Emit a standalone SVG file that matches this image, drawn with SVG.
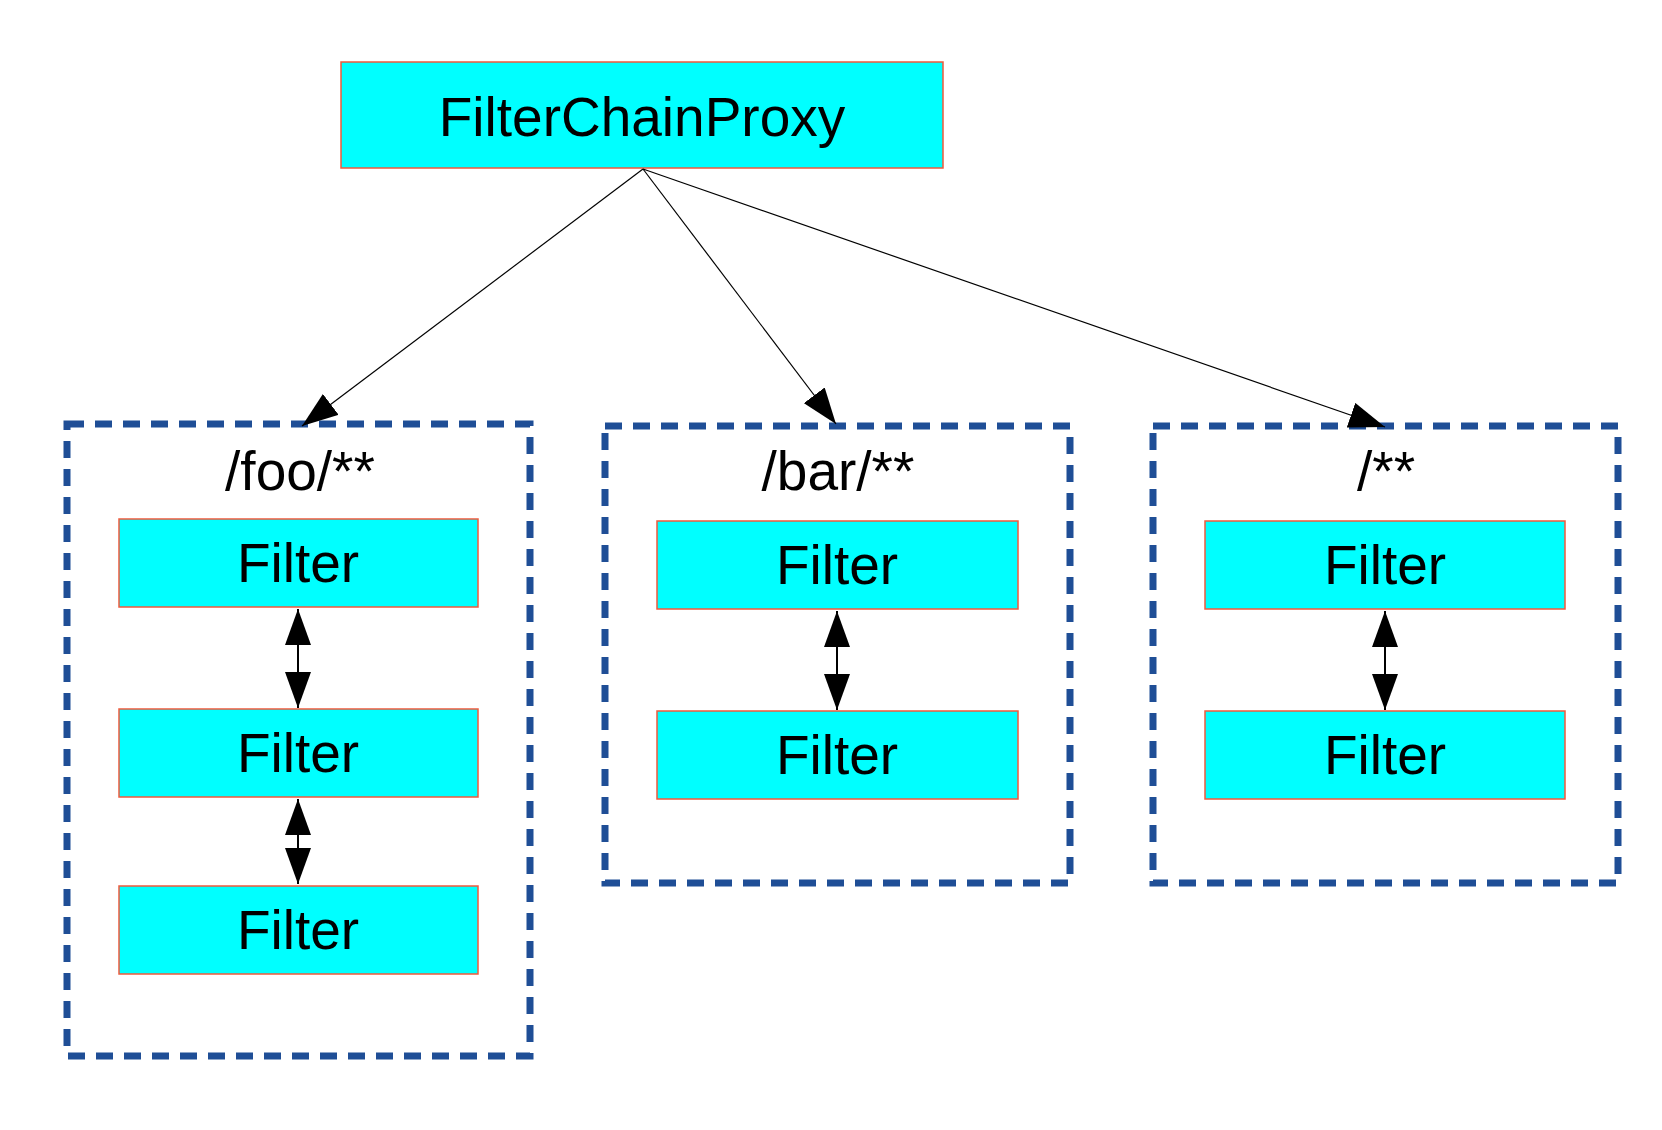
<svg xmlns="http://www.w3.org/2000/svg" width="1662" height="1130" viewBox="0 0 1662 1130">
<style>
.box{fill:#00ffff;stroke:#f05a3c;stroke-width:1.5}
.grp{fill:none;stroke:#1f4e96;stroke-width:7;stroke-dasharray:17 11}
.t{font-family:"Liberation Sans",Arial,sans-serif;font-size:55px;fill:#000;text-anchor:middle}
.c{stroke:#000;stroke-width:1.2;fill:none}
.d{stroke:#000;stroke-width:2;fill:none}
</style>
<defs>
<marker id="ah" markerUnits="userSpaceOnUse" markerWidth="36" markerHeight="26" refX="36" refY="13" orient="auto-start-reverse" viewBox="0 0 36 26">
<path d="M0,0 L36,13 L0,26 z" fill="#000"/>
</marker>
</defs>
<rect width="1662" height="1130" fill="#fff"/>
<g id="proxy">
<rect class="box" x="341" y="62" width="602" height="106"/>
<text class="t" x="642" y="136">FilterChainProxy</text>
</g>
<g id="chain-foo">
<rect class="grp" x="67" y="424" width="463" height="632"/>
<text class="t" x="300" y="490">/foo/**</text>
</g>
<g id="chain-bar">
<rect class="grp" x="605" y="426" width="465" height="457"/>
<text class="t" x="838" y="490">/bar/**</text>
</g>
<g id="chain-all">
<rect class="grp" x="1153" y="426" width="465" height="457"/>
<text class="t" x="1386" y="490">/**</text>
</g>
<g id="foo-f1"><rect class="box" x="119" y="519" width="359" height="88"/><text class="t" x="298" y="582">Filter</text></g>
<g id="foo-f2"><rect class="box" x="119" y="709" width="359" height="88"/><text class="t" x="298" y="772">Filter</text></g>
<g id="foo-f3"><rect class="box" x="119" y="886" width="359" height="88"/><text class="t" x="298" y="949">Filter</text></g>
<g id="bar-f1"><rect class="box" x="657" y="521" width="361" height="88"/><text class="t" x="837" y="584">Filter</text></g>
<g id="bar-f2"><rect class="box" x="657" y="711" width="361" height="88"/><text class="t" x="837" y="774">Filter</text></g>
<g id="all-f1"><rect class="box" x="1205" y="521" width="360" height="88"/><text class="t" x="1385" y="584">Filter</text></g>
<g id="all-f2"><rect class="box" x="1205" y="711" width="360" height="88"/><text class="t" x="1385" y="774">Filter</text></g>
<g id="connectors">
<line class="c" x1="643" y1="169" x2="302" y2="426" marker-end="url(#ah)"/>
<line class="c" x1="643" y1="169" x2="836" y2="424" marker-end="url(#ah)"/>
<line class="c" x1="643" y1="169" x2="1385" y2="427" marker-end="url(#ah)"/>
<line class="d" x1="298" y1="609" x2="298" y2="708" marker-start="url(#ah)" marker-end="url(#ah)"/>
<line class="d" x1="298" y1="799" x2="298" y2="884" marker-start="url(#ah)" marker-end="url(#ah)"/>
<line class="d" x1="837" y1="611" x2="837" y2="710" marker-start="url(#ah)" marker-end="url(#ah)"/>
<line class="d" x1="1385" y1="611" x2="1385" y2="710" marker-start="url(#ah)" marker-end="url(#ah)"/>
</g>
</svg>
